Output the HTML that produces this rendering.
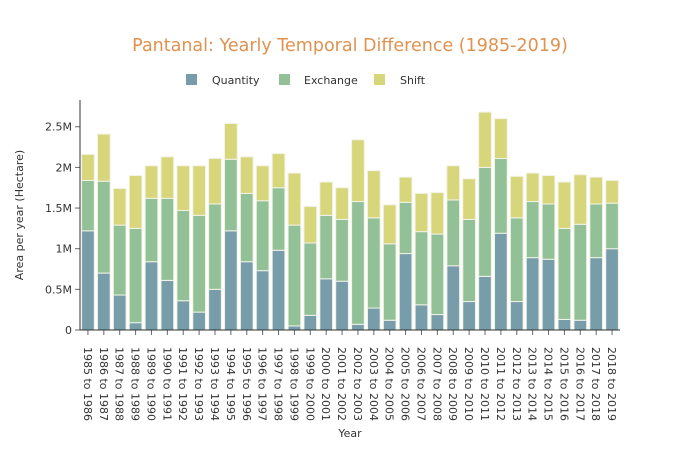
<!DOCTYPE html>
<html><head><meta charset="utf-8"><style>
html,body{margin:0;padding:0;background:#fff;}
svg{display:block;font-family:"DejaVu Sans","Liberation Sans",sans-serif;}
</style></head><body>
<svg id="chart" width="700" height="450">
<text x="350" y="51" text-anchor="middle" font-size="17.5" fill="#e0924f">Pantanal: Yearly Temporal Difference (1985-2019)</text>
<g>
<g><rect x="186" y="74" width="11" height="11" fill="#779dab"/><text x="212" y="84" font-size="11" fill="#333">Quantity</text></g>
<g><rect x="279" y="74" width="11" height="11" fill="#93c197"/><text x="304" y="84" font-size="11" fill="#333">Exchange</text></g>
<g><rect x="374" y="74" width="11" height="11" fill="#d8d67a"/><text x="400" y="84" font-size="11" fill="#333">Shift</text></g>
</g>
<g id="plot"></g>
<text x="350" y="437" text-anchor="middle" font-size="11" fill="#333">Year</text>
<text transform="translate(23,215) rotate(-90)" text-anchor="middle" font-size="11" fill="#333">Area per year (Hectare)</text>
</svg>
<script>
const categories = ["1985 to 1986","1986 to 1987","1987 to 1988","1988 to 1989","1989 to 1990","1990 to 1991","1991 to 1992","1992 to 1993","1993 to 1994","1994 to 1995","1995 to 1996","1996 to 1997","1997 to 1998","1998 to 1999","1999 to 2000","2000 to 2001","2001 to 2002","2002 to 2003","2003 to 2004","2004 to 2005","2005 to 2006","2006 to 2007","2007 to 2008","2008 to 2009","2009 to 2010","2010 to 2011","2011 to 2012","2012 to 2013","2013 to 2014","2014 to 2015","2015 to 2016","2016 to 2017","2017 to 2018","2018 to 2019"];
const quantity = [1.22,0.70,0.43,0.09,0.84,0.61,0.36,0.22,0.50,1.22,0.84,0.73,0.98,0.05,0.18,0.63,0.60,0.07,0.27,0.12,0.94,0.31,0.19,0.79,0.35,0.66,1.19,0.35,0.89,0.87,0.13,0.12,0.89,1.00];
const exchange = [0.62,1.13,0.86,1.16,0.78,1.01,1.11,1.19,1.05,0.88,0.84,0.86,0.77,1.24,0.89,0.78,0.76,1.51,1.11,0.94,0.63,0.90,0.99,0.81,1.01,1.34,0.92,1.03,0.69,0.68,1.12,1.18,0.66,0.56];
const shift = [0.32,0.58,0.45,0.65,0.40,0.51,0.55,0.61,0.56,0.44,0.45,0.43,0.42,0.64,0.45,0.41,0.39,0.76,0.58,0.48,0.31,0.47,0.51,0.42,0.50,0.68,0.49,0.51,0.35,0.35,0.57,0.61,0.33,0.28];
const yTicks = [0,0.5,1,1.5,2,2.5];
const yTickLabels = ["0","0.5M","1M","1.5M","2M","2.5M"];

const NS="http://www.w3.org/2000/svg";
const L=80,R=620,T=100,B=330;
const yMax=2.829;
const y=v=>B-(v/yMax)*(B-T);
const band=(R-L)/categories.length;
const x=i=>L+i*band;
const bw=band*0.8;
const g=document.getElementById('plot');
function mk(t,a){const e=document.createElementNS(NS,t);for(const k in a)e.setAttribute(k,a[k]);g.appendChild(e);return e;}

const series=[["quantity",quantity,"#779dab"],["exchange",exchange,"#93c197"],["shift",shift,"#d8d67a"]];
categories.forEach((c,i)=>{
  let base=0;
  series.forEach(([nm,arr,col])=>{
    const v=arr[i];
    const r=mk('rect',{x:x(i)+(band-bw)/2,y:y(base+v),width:bw,height:y(base)-y(base+v),fill:col,stroke:"#f2f2e6","stroke-width":1});
    
    
    base+=v;
  });
  const tk=mk('line',{x1:x(i)+band/2,x2:x(i)+band/2,y1:B,y2:B+5,stroke:"#666"});
  
  
  const lx=x(i)+band/2-4, ly=B+17;
  const t=mk('text',{x:lx,y:ly,"font-size":11,fill:"#333",transform:`rotate(90 ${lx} ${ly})`});
  t.textContent=c;
  
  
});
yTicks.forEach((v,k)=>{
  const tk=mk('line',{x1:L-5,x2:L,y1:y(v),y2:y(v),stroke:"#666"});
  
  
  const t=mk('text',{x:L-8,y:y(v)+4,"text-anchor":"end","font-size":11,fill:"#333"});
  t.textContent=yTickLabels[k];
  
  
});
const ya=mk('line',{x1:L,x2:L,y1:T,y2:B,stroke:"#333"});


const xa=mk('line',{x1:L,x2:R,y1:B,y2:B,stroke:"#333"});


</script>
</body></html>
